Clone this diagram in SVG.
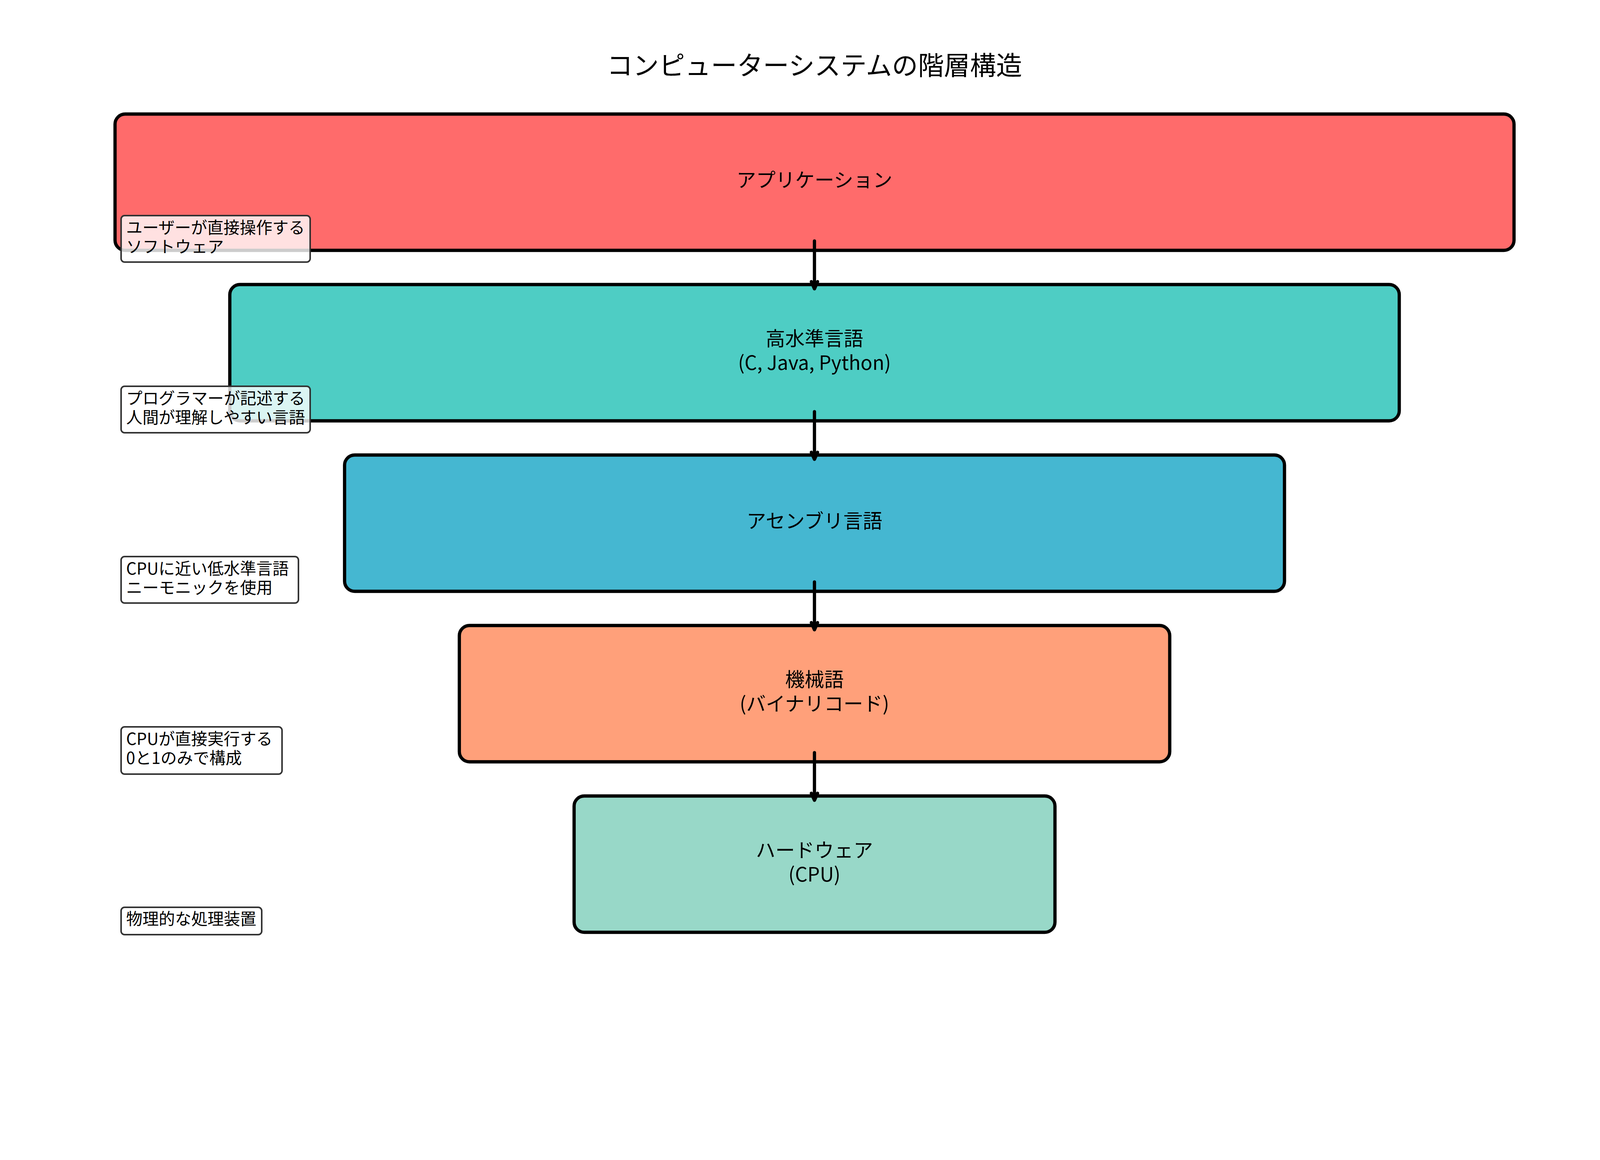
<svg xmlns="http://www.w3.org/2000/svg" width="4170" height="2970" viewBox="0 0 4170 2970">
<defs>
<style>
text{font-family:"Noto Sans CJK JP","Noto Sans",sans-serif;fill:#000}
.title{font-size:66.67px;text-anchor:middle}
.lbl{font-size:50px;text-anchor:middle}
.ann{font-size:41.67px}
.box{stroke:#000;stroke-width:8.33}
.note{fill:#fff;fill-opacity:0.8;stroke:#333;stroke-width:4}
.conn{fill:none;stroke:#000;stroke-width:8.33;stroke-linecap:round;stroke-linejoin:round}
</style>
</defs>
<rect width="4170" height="2970" fill="#fff"/>
<text class="title" x="2085" y="192">コンピューターシステムの階層構造</text>
<g id="node-application">
<rect class="box" x="294.5" y="292" width="3581.4" height="349" rx="26" fill="#FF6B6B"/>
<text class="lbl" x="2085" y="479">アプリケーション</text>
</g>
<g id="node-highlevel">
<rect class="box" x="588.3" y="728.5" width="2993.8" height="349" rx="26" fill="#4ECDC4"/>
<text class="lbl" x="2085" y="885">高水準言語</text>
<text class="lbl" x="2085" y="947">(C, Java, Python)</text>
</g>
<g id="node-assembly">
<rect class="box" x="882.1" y="1165" width="2406.2" height="349" rx="26" fill="#45B7D1"/>
<text class="lbl" x="2085" y="1352">アセンブリ言語</text>
</g>
<g id="node-machine">
<rect class="box" x="1175.9" y="1601.5" width="1818.6" height="349" rx="26" fill="#FFA07A"/>
<text class="lbl" x="2085" y="1758">機械語</text>
<text class="lbl" x="2085" y="1820">(バイナリコード)</text>
</g>
<g id="node-hardware">
<rect class="box" x="1469.7" y="2038" width="1231" height="349" rx="26" fill="#98D8C8"/>
<text class="lbl" x="2085" y="2195">ハードウェア</text>
<text class="lbl" x="2085" y="2257">(CPU)</text>
</g>
<g id="connectors">
<line class="conn" x1="2085" y1="617" x2="2085" y2="738"/>
<polyline class="conn" points="2077,721 2085,739.5 2093,721"/>
<line class="conn" x1="2085" y1="1054" x2="2085" y2="1175"/>
<polyline class="conn" points="2077,1158 2085,1176 2093,1158"/>
<line class="conn" x1="2085" y1="1490" x2="2085" y2="1611"/>
<polyline class="conn" points="2077,1594 2085,1612.5 2093,1594"/>
<line class="conn" x1="2085" y1="1927" x2="2085" y2="2048"/>
<polyline class="conn" points="2077,2031 2085,2049 2093,2031"/>
</g>
<g id="note-application">
<rect class="note" x="310" y="552" width="484" height="119" rx="9"/>
<text class="ann" x="323" y="597.6">ユーザーが直接操作する</text>
<text class="ann" x="323" y="647">ソフトウェア</text>
</g>
<g id="note-highlevel">
<rect class="note" x="310" y="989" width="484" height="119" rx="9"/>
<text class="ann" x="323" y="1034.6">プログラマーが記述する</text>
<text class="ann" x="323" y="1084">人間が理解しやすい言語</text>
</g>
<g id="note-assembly">
<rect class="note" x="310" y="1425" width="454" height="119" rx="9"/>
<text class="ann" x="323" y="1471">CPUに近い低水準言語</text>
<text class="ann" x="323" y="1520">ニーモニックを使用</text>
</g>
<g id="note-machine">
<rect class="note" x="310" y="1861" width="412" height="121" rx="9"/>
<text class="ann" x="323" y="1907">CPUが直接実行する</text>
<text class="ann" x="323" y="1956">0と1のみで構成</text>
</g>
<g id="note-hardware">
<rect class="note" x="310" y="2323" width="360" height="70" rx="9"/>
<text class="ann" x="323" y="2368">物理的な処理装置</text>
</g>
</svg>
